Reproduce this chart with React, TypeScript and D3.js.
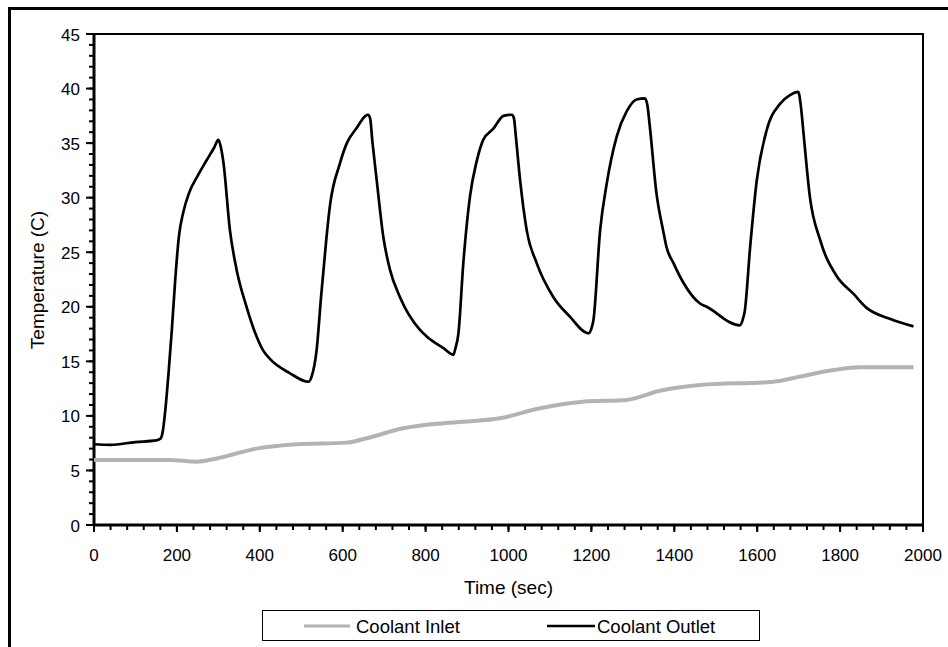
import React from "react";
import * as d3 from "d3";

// time (sec), temperature (C)
const outletTime = [
  0, 40, 100, 150, 160, 166, 172, 180, 188, 196, 205, 215, 230, 250, 272, 290, 300, 305, 312, 328, 344,
  368, 392, 408, 425, 473, 517, 525, 537, 548, 561, 569, 593, 610, 634, 655, 661, 666, 672, 682, 698, 714,
  738, 786, 802, 843, 867, 872, 879, 891, 907, 923, 939, 963, 988, 1008, 1013, 1018, 1028, 1044, 1068,
  1108, 1148, 1193, 1200, 1205, 1221, 1237, 1261, 1285, 1309, 1329, 1335, 1341, 1357, 1373, 1381, 1398,
  1422, 1462, 1478, 1558, 1565, 1570, 1583, 1599, 1623, 1655, 1679, 1699, 1705, 1711, 1727, 1752, 1792,
  1832, 1864, 1920, 1977,
];
const outletTemp = [
  7.4, 7.35, 7.6, 7.75, 7.9, 8.6, 10.5, 14, 18, 22.5, 26.5, 28.6, 30.5, 32, 33.45, 34.6, 35.3, 34.8, 33.3,
  27.0, 23.4, 20.0, 17.3, 16.0, 15.2, 13.9, 13.13, 13.6, 16.0, 21, 26.4, 29.2, 33.1, 35, 36.4, 37.5, 37.6,
  37.3, 35, 31.6, 26.4, 23.4, 20.9, 17.9, 17.3, 16.2, 15.6, 16.2, 17.5, 24, 30.1, 33.3, 35.3, 36.3, 37.5,
  37.6, 37.3, 35.5, 31.6, 27.0, 24.0, 20.9, 19.1, 17.57, 18.0, 18.8, 27.0, 31.3, 35.6, 37.9, 39.0, 39.1,
  38.5, 36.5, 30.4, 27.0, 25.5, 24.0, 22.2, 20.3, 20.0, 18.3, 18.8, 19.6, 25.5, 31.6, 36.2, 38.6, 39.4,
  39.7, 38.5, 36.2, 30.1, 26.1, 22.8, 21.2, 19.9, 18.9, 18.2,
];

const inletTime = [
  0, 183, 248, 296, 392, 489, 610, 658, 746, 835, 891, 979, 1076, 1180, 1285, 1365, 1462, 1639, 1703,
  1784, 1848, 1977,
];
const inletTemp = [
  5.96, 5.96, 5.8, 6.1, 7.0, 7.4, 7.55, 7.95, 8.86, 9.3, 9.47, 9.78, 10.7, 11.3, 11.46, 12.3, 12.83,
  13.13, 13.6, 14.2, 14.45, 14.45,
];

const seriesNames = ["Coolant Inlet", "Coolant Outlet"];

const W = 948;
const H = 647;
const left = 94;
const top = 34;
const right = 923;
const bottom = 525;
const font = "'Liberation Sans', Arial, sans-serif";

export default function App() {
  const x = d3.scaleLinear().domain([0, 2000]).range([left, right]);
  const y = d3.scaleLinear().domain([0, 45]).range([bottom, top]);

  const line = d3
    .line<[number, number]>()
    .x((d) => x(d[0]))
    .y((d) => y(d[1]))
    .curve(d3.curveMonotoneX);

  const outlet = outletTime.map((t, i) => [t, outletTemp[i]] as [number, number]);
  const inlet = inletTime.map((t, i) => [t, inletTemp[i]] as [number, number]);

  const xMajor = x.ticks(10);
  const xMinor = d3.range(0, 2001, 40);
  const yMajor = y.ticks(9);
  const yMinor = d3.range(0, 46, 1);

  return (
    <svg
      width={W}
      height={H}
      style={{ position: "absolute", left: 0, top: 0, background: "#fff" }}
      fontFamily={font}
    >
      {/* outer frame */}
      <rect x={9.5} y={8.5} width={W + 20} height={H + 20} fill="none" stroke="#000" strokeWidth={3} />

      {/* plot frame top + right */}
      <path d={`M${left},${top}H${right}V${bottom}`} fill="none" stroke="#000" strokeWidth={2} />

      {/* y axis */}
      <g>
        {yMinor.map((v) => (
          <line key={"ym" + v} x1={left - 5} x2={left} y1={y(v)} y2={y(v)} stroke="#000" strokeWidth={2} />
        ))}
        {yMajor.map((v) => (
          <g key={"yt" + v}>
            <line x1={left - 8} x2={left} y1={y(v)} y2={y(v)} stroke="#000" strokeWidth={2} />
            <text x={80} y={y(v) + 6.5} textAnchor="end" fontSize={17}>
              {v}
            </text>
          </g>
        ))}
      </g>

      {/* x axis */}
      <g>
        {xMinor.map((t) => (
          <line key={"xm" + t} x1={x(t)} x2={x(t)} y1={bottom} y2={bottom + 5} stroke="#000" strokeWidth={2} />
        ))}
        {xMajor.map((t) => (
          <g key={"xt" + t}>
            <line x1={x(t)} x2={x(t)} y1={bottom} y2={bottom + 7} stroke="#000" strokeWidth={2} />
            <text x={x(t)} y={561} textAnchor="middle" fontSize={17}>
              {t}
            </text>
          </g>
        ))}
      </g>
      <line x1={left} x2={left} y1={top} y2={bottom + 1} stroke="#000" strokeWidth={3} />
      <line x1={left - 1} x2={right + 1} y1={bottom} y2={bottom} stroke="#000" strokeWidth={3} />

      {/* series */}
      <path d={line(inlet) ?? ""} fill="none" stroke="#b3b3b3" strokeWidth={4} />
      <path d={line(outlet) ?? ""} fill="none" stroke="#000" strokeWidth={2.7} strokeLinejoin="round" />

      {/* axis titles */}
      <text x={(left + right) / 2} y={594} textAnchor="middle" fontSize={19}>
        Time (sec)
      </text>
      <text transform="translate(44,280) rotate(-90)" textAnchor="middle" fontSize={19}>
        Temperature (C)
      </text>

      {/* legend */}
      <rect x={262.5} y={610.5} width={497} height={30} fill="#fff" stroke="#000" strokeWidth={1} />
      <line x1={304} x2={350} y1={626} y2={626} stroke="#b3b3b3" strokeWidth={3} />
      <text x={356} y={632.5} fontSize={18.5}>
        {seriesNames[0]}
      </text>
      <line x1={547} x2={595} y1={626} y2={626} stroke="#000" strokeWidth={2.5} />
      <text x={597} y={632.5} fontSize={18.5}>
        {seriesNames[1]}
      </text>
    </svg>
  );
}
